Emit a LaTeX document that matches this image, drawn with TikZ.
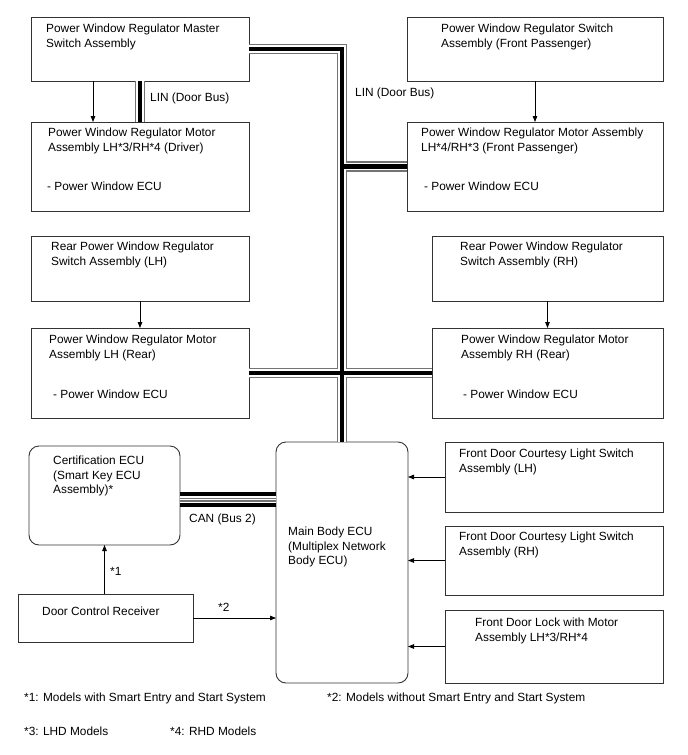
\documentclass[tikz,border=0pt]{standalone}
\usepackage{fontspec}
\setmainfont{Liberation Sans}
\usetikzlibrary{arrows.meta}
\begin{document}
\begin{tikzpicture}[x=1bp,y=-1bp,
  box/.style={draw=black!80, line width=0.9bp, anchor=north west, inner sep=0pt, outer sep=0pt},
  rbox/.style={box, rounded corners=10bp},
  txt/.style={anchor=north west, inner sep=0pt, align=left, font=\fontsize{11.9}{14.4}\selectfont},
  arr/.style={draw=black, line width=0.8bp, -{Triangle[length=6bp,width=4.5bp]}},
]
\useasboundingbox (0,0) rectangle (688,755);
\fill[white] (0,0) rectangle (688,755);

% boxes
\node[box, minimum width=218bp, minimum height=64bp] (ms) at (31,17) {};
\node[box, minimum width=218bp, minimum height=89bp] (dm) at (31,122) {};
\node[box, minimum width=256bp, minimum height=64bp] (ps) at (407,17) {};
\node[box, minimum width=256bp, minimum height=89bp] (pm) at (407,122) {};
\node[box, minimum width=218bp, minimum height=65bp] (rls) at (31,236) {};
\node[box, minimum width=218bp, minimum height=90bp] (rlm) at (31,328) {};
\node[box, minimum width=231bp, minimum height=65bp] (rrs) at (432,236) {};
\node[box, minimum width=231bp, minimum height=90bp] (rrm) at (432,328) {};
\node[rbox, minimum width=151bp, minimum height=99bp] (cert) at (29,446) {};
\node[box, minimum width=175bp, minimum height=48bp] (dcr) at (18,594) {};
\node[rbox, minimum width=132bp, minimum height=241bp] (mb) at (276,442) {};
\node[box, minimum width=218bp, minimum height=70bp] (cl) at (445,442) {};
\node[box, minimum width=218bp, minimum height=69bp] (cr) at (445,526) {};
\node[box, minimum width=218bp, minimum height=73bp] (dl) at (445,610) {};

% texts
\node[txt] (mst) at (46,24) {Power Window Regulator Master\\Switch Assembly};
\node[txt] (dmt) at (48,128) {Power Window Regulator Motor\\Assembly LH*3/RH*4 (Driver)};
\node[txt] (dme) at (47,182) {- Power Window ECU};
\node[txt] (pst) at (441,24) {Power Window Regulator Switch\\Assembly (Front Passenger)};
\node[txt] (pmt) at (421,128) {Power Window Regulator Motor Assembly\\LH*4/RH*3 (Front Passenger)};
\node[txt] (pme) at (424,182) {- Power Window ECU};
\node[txt] (rlst) at (51,242) {Rear Power Window Regulator\\Switch Assembly (LH)};
\node[txt] (rlmt) at (49,335) {Power Window Regulator Motor\\Assembly LH (Rear)};
\node[txt] (rlme) at (53,390) {- Power Window ECU};
\node[txt] (rrst) at (460,242) {Rear Power Window Regulator\\Switch Assembly (RH)};
\node[txt] (rrmt) at (461,335) {Power Window Regulator Motor\\Assembly RH (Rear)};
\node[txt] (rrme) at (463,390) {- Power Window ECU};
\node[txt] (certt) at (53,456) {Certification ECU\\(Smart Key ECU\\Assembly)*};
\node[txt] (dcrt) at (42,607) {Door Control Receiver};
\node[txt] (mbt) at (288,527) {Main Body ECU\\(Multiplex Network\\Body ECU)};
\node[txt] (clt) at (459,449) {Front Door Courtesy Light Switch\\Assembly (LH)};
\node[txt] (crt) at (459,532) {Front Door Courtesy Light Switch\\Assembly (RH)};
\node[txt] (dlt) at (475,618) {Front Door Lock with Motor\\Assembly LH*3/RH*4};

% LIN buses
\foreach \w/\c in {10.5/black!55, 7.5/white, 4.5/black}{
  \draw[line width=\w bp, draw=\c, line join=miter, line cap=butt]
    (ms.east) -| (mb.north)
    (pm.west) -- (pm.west -| mb.north)
    (rlm.east) -- (rrm.west)
    (ms.south) -- (dm.north);
}
% CAN bus
\coordinate (can) at (0,499.5);
\foreach \w/\c in {14.5/black, 7.5/white, 4/black!55, 1.8/white}{
  \draw[line width=\w bp, draw=\c, line cap=butt] (cert.east |- can) -- (mb.west |- can);
}

% bus labels
\node[txt] (lin1) at (150,93) {LIN (Door Bus)};
\node[txt] (lin2) at (355,88) {LIN (Door Bus)};
\node[txt] (cant) at (189,514) {CAN (Bus 2)};

% arrows
\coordinate (a1) at (93,0);
\draw[arr] (ms.south -| a1) -- (dm.north -| a1);
\draw[arr] (ps.south) -- (pm.north);
\draw[arr] (rls.south) -- (rlm.north);
\draw[arr] (rrs.south) -- (rrm.north);
\draw[arr] (dcr.north -| cert.south) -- (cert.south);
\draw[arr] (dcr.east) -- (dcr.east -| mb.west);
\draw[arr] (cl.west) -- (cl.west -| mb.east);
\draw[arr] (cr.west) -- (cr.west -| mb.east);
\draw[arr] (dl.west) -- (dl.west -| mb.east);
\node[txt] (s1) at (110,567) {*1};
\node[txt] (s2) at (218,603) {*2};

% footnotes
\node[txt] (f1) at (24,693) {*1: Models with Smart Entry and Start System};
\node[txt] (f2) at (327,693) {*2: Models without Smart Entry and Start System};
\node[txt] (f3) at (24,727) {*3: LHD Models};
\node[txt] (f4) at (170,727) {*4: RHD Models};
\end{tikzpicture}
\end{document}
